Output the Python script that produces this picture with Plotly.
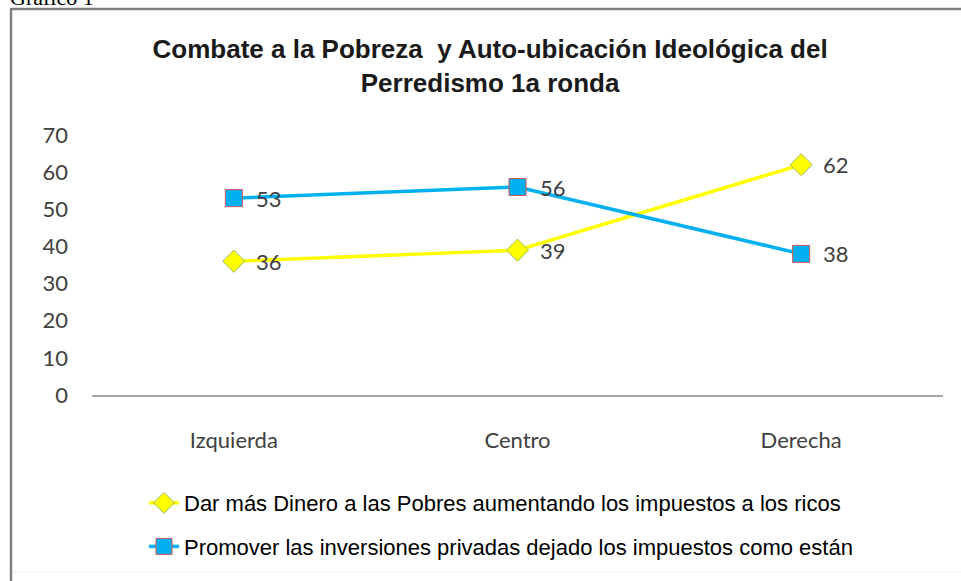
import plotly.graph_objects as go

categories = ["Izquierda", "Centro", "Derecha"]
dar_mas = [36, 39, 62]
promover = [53, 56, 38]
name_dar = "Dar más Dinero a las Pobres aumentando los impuestos a los ricos"
name_prom = "Promover las inversiones privadas dejado los impuestos como están"
y_ticks = [0, 10, 20, 30, 40, 50, 60, 70]
title_text = "Combate a la Pobreza  y Auto-ubicación Ideológica del<br>Perredismo 1a ronda"

W, H = 961, 581
L, R, T, B = 92, 18, 135, 186
pw, ph = W - L - R, H - T - B

def px_x(p):
    return (p - L) / pw

def px_y(q):
    return (H - B - q) / ph

fig = go.Figure()
fig.add_trace(go.Scatter(
    x=categories, y=dar_mas, name=name_dar, mode="lines+markers",
    line=dict(color="#FFFF00", width=3.5),
    marker=dict(symbol="diamond", size=17, color="#FFFF00",
                line=dict(color="#9BBB59", width=1)),
    legendgroup="a",
))
fig.add_trace(go.Scatter(
    x=categories, y=promover, name=name_prom, mode="lines+markers",
    line=dict(color="#00B0F0", width=3.5),
    marker=dict(symbol="square", size=17, color="#00B0F0",
                line=dict(color="#D9534F", width=1)),
    legendgroup="b",
))

annotations = []
for series in (dar_mas, promover):
    for c, v in zip(categories, series):
        annotations.append(dict(
            x=c, y=v, xref="x", yref="y", text=str(v), showarrow=False,
            xanchor="left", yanchor="middle", xshift=20,
            font=dict(family="Lato, Carlito, sans-serif", size=22, color="#404040"),
        ))

annotations.append(dict(
    x=px_x(8), y=px_y(-3), xref="paper", yref="paper", text="Gráfico 1",
    showarrow=False, xanchor="left", yanchor="middle",
    font=dict(family="Liberation Serif, Times New Roman, serif", size=22, color="#000000"),
))

fig.update_layout(
    width=W, height=H,
    margin=dict(l=L, r=R, t=T, b=B, autoexpand=False),
    paper_bgcolor="#ffffff", plot_bgcolor="#ffffff",
    title=dict(
        text=title_text, x=0.51, xanchor="center", y=1 - 58 / H, yanchor="middle",
        yref="container",
        font=dict(family="Liberation Sans Narrow, Arial Narrow, Liberation Sans, sans-serif",
                  size=26, color="#1a1a1a", weight="bold"),
    ),
    xaxis=dict(
        type="category", range=[-0.5, 2.5], showgrid=False, zeroline=False,
        showline=True, linecolor="#A6A6A6", linewidth=2, automargin=False,
        ticks="", ticklabelstandoff=25,
        tickfont=dict(family="Lato, Carlito, sans-serif", size=22, color="#404040"),
    ),
    yaxis=dict(
        range=[0, 70], tickvals=y_ticks, showgrid=False, zeroline=False,
        showline=False, ticks="", ticklabelstandoff=23, automargin=False,
        tickfont=dict(family="Lato, Carlito, sans-serif", size=22, color="#404040"),
    ),
    legend=dict(
        orientation="v", x=px_x(144), xanchor="left", y=px_y(482), yanchor="top",
        tracegroupgap=12, bgcolor="rgba(0,0,0,0)",
        font=dict(family="Liberation Sans Narrow, Arial Narrow, Liberation Sans, sans-serif",
                  size=22, color="#000000"),
    ),
    annotations=annotations,
    shapes=[
        dict(
            type="line", xref="paper", yref="paper",
            x0=px_x(11), x1=px_x(11), y0=px_y(581), y1=px_y(9),
            line=dict(color="#808080", width=2.5), layer="below",
        ),
        dict(
            type="line", xref="paper", yref="paper",
            x0=px_x(10), x1=px_x(961), y0=px_y(9), y1=px_y(9),
            line=dict(color="#808080", width=2.5), layer="below",
        ),
        dict(
            type="line", xref="paper", yref="paper",
            x0=px_x(13), x1=px_x(961), y0=px_y(572), y1=px_y(572),
            line=dict(color="#EDEDED", width=1), layer="below",
        ),
    ],
)

fig.write_html("out.html", config={"displayModeBar": False},
               post_script="document.body.style.margin='0';")
